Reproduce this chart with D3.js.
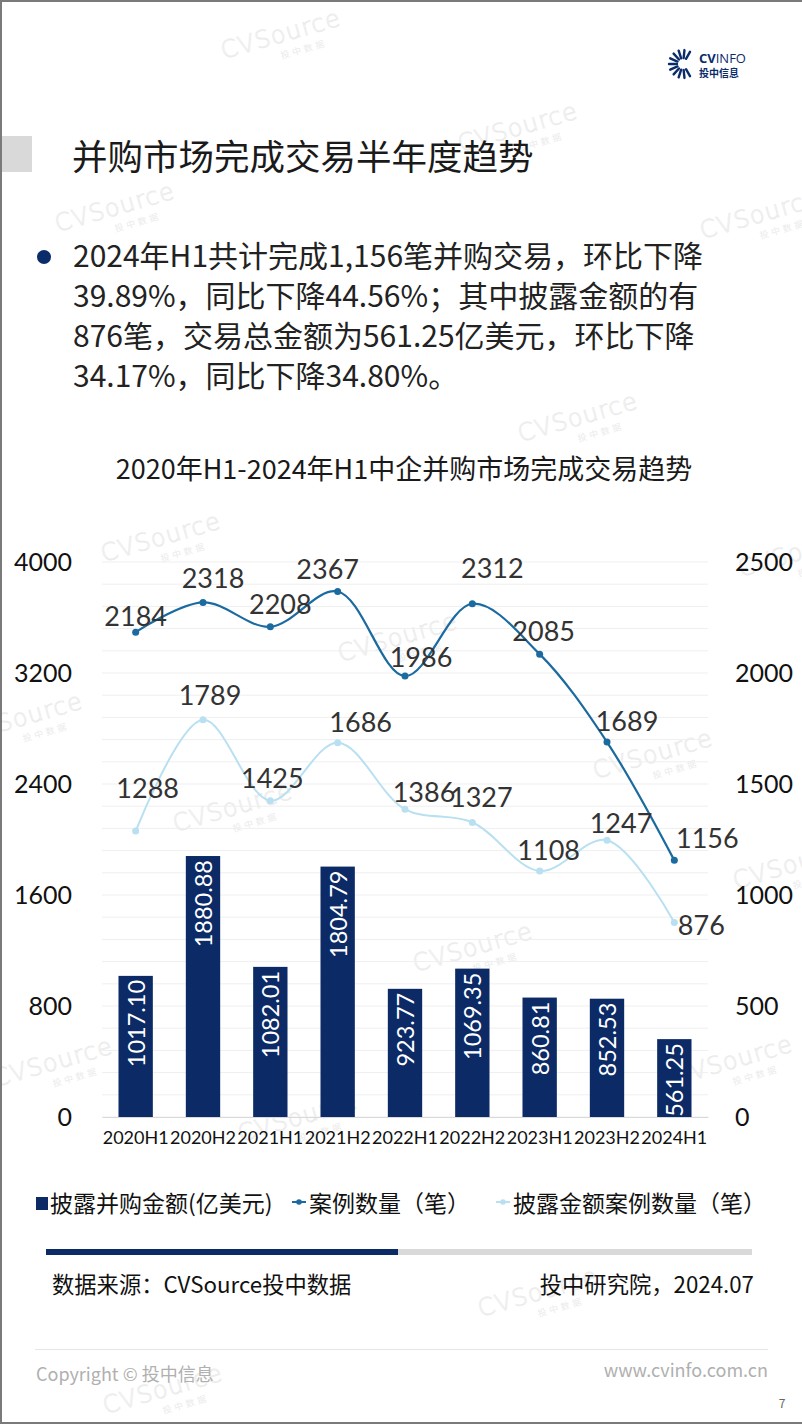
<!DOCTYPE html>
<html><head><meta charset="utf-8">
<script src="https://cdn.jsdelivr.net/npm/d3@7/dist/d3.min.js"></script>
<style>
html,body{margin:0;padding:0;background:#fff;}
svg{display:block;}
</style></head>
<body>
<script>
// ---------- data ----------
const categories = ["2020H1","2020H2","2021H1","2021H2","2022H1","2022H2","2023H1","2023H2","2024H1"];
const amounts = [1017.10,1880.88,1082.01,1804.79,923.77,1069.35,860.81,852.53,561.25];
const caseCounts = [2184,2318,2208,2367,1986,2312,2085,1689,1156];
const disclosedCounts = [1288,1789,1425,1686,1386,1327,1108,1247,876];
const leftTicks = [0,800,1600,2400,3200,4000];
const rightTicks = [0,500,1000,1500,2000,2500];
const seriesNames = ["披露并购金额(亿美元)","案例数量（笔）","披露金额案例数量（笔）"];
// label offsets (layout tweaks)
const caseLabelDx = [0,10,10,-10,16,20,4,20,33];
const caseLabelDy = [-16,-24,-23,-23,-19,-36,-23,-21,-22];
const discLabelDx = [12,7,2,23,19,9,9,14,27];
const discLabelDy = [-43,-25,-23,-21,-17,-25,-21,-17,2];

const W = 802, H = 1424;
const svg = d3.select("body").append("svg").attr("width", W).attr("height", H);
const CJK = "'Noto Sans CJK SC','Noto Sans',sans-serif";
const NUM = "Lato,'Open Sans',sans-serif";

svg.append("rect").attr("x",0).attr("y",0).attr("width",W).attr("height",H).attr("fill","#fff");

// ---------- watermarks ----------
const wm = [[283,42],[520,135],[117,215],[762,222],[580,425],[163,545],[400,645],[25,725],[235,815],[655,762],[475,955],[795,872],[55,1070],[735,1068],[300,1125],[540,1300],[165,1397],[800,560]];
const wmg = svg.append("g");
wm.forEach(([x,y])=>{
  const g = wmg.append("g").attr("transform",`translate(${x},${y}) rotate(-16)`);
  g.append("text").attr("text-anchor","middle").attr("font-family","'DejaVu Sans',sans-serif")
    .attr("font-size",24).attr("font-weight",200).attr("fill","none").attr("stroke","#ebebeb").attr("stroke-width",0.8)
    .attr("letter-spacing",1).text("CVSource");
  g.append("text").attr("x",18).attr("y",16).attr("text-anchor","middle").attr("font-family",CJK)
    .attr("font-size",9).attr("fill","#ebebeb").attr("letter-spacing",3).text("投中数据");
});

// ---------- header ----------
const logo = svg.append("g").attr("transform","translate(683,64)");
d3.range(11).forEach(i=>{
  const a = (60 + i*24) * Math.PI/180;
  logo.append("line").attr("x1",Math.cos(a)*6).attr("y1",-Math.sin(a)*6)
    .attr("x2",Math.cos(a)*14).attr("y2",-Math.sin(a)*14)
    .attr("stroke","#0b2c6b").attr("stroke-width",2.4).attr("stroke-linecap","round");
});
svg.append("text").attr("x",699).attr("y",63).attr("font-family","'Open Sans',sans-serif").attr("font-size",13)
  .attr("fill","#0b2c6b").html('<tspan font-weight="700">CV</tspan><tspan font-weight="400">INFO</tspan>');
svg.append("text").attr("x",699).attr("y",77).attr("font-family",CJK).attr("font-size",10).attr("font-weight",700)
  .attr("fill","#0b2c6b").text("投中信息");

svg.append("rect").attr("x",0).attr("y",136).attr("width",32).attr("height",36).attr("fill","#d9d9d9");
svg.append("text").attr("x",72).attr("y",170).attr("font-family",CJK).attr("font-size",35.5).attr("fill","#1a1a1a")
  .text("并购市场完成交易半年度趋势");

svg.append("circle").attr("cx",44).attr("cy",257).attr("r",7).attr("fill","#0b2c6b");
const bullet = ["2024年H1共计完成1,156笔并购交易，环比下降","39.89%，同比下降44.56%；其中披露金额的有","876笔，交易总金额为561.25亿美元，环比下降","34.17%，同比下降34.80%。"];
bullet.forEach((t,i)=>{
  svg.append("text").attr("x",73).attr("y",267+i*40).attr("font-family",CJK).attr("font-size",30)
    .attr("fill","#222").text(t);
});

svg.append("text").attr("x",404).attr("y",479).attr("text-anchor","middle").attr("font-family",CJK)
  .attr("font-size",27).attr("fill","#1a1a1a").text("2020年H1-2024年H1中企并购市场完成交易趋势");

// ---------- chart ----------
const x0 = 102, x1 = 708, yTop = 562, yBot = 1117;
const x = d3.scaleBand().domain(categories).range([x0,x1]).paddingInner(0.49).paddingOuter(0.245);
const yL = d3.scaleLinear().domain([0,4000]).range([yBot,yTop]);
const yR = d3.scaleLinear().domain([0,2500]).range([yBot,yTop]);
const cx = d => x(d) + x.bandwidth()/2;

svg.append("g").selectAll("line").data(d3.range(0,2501,100)).join("line")
  .attr("x1",x0).attr("x2",x1).attr("y1",d=>yR(d)).attr("y2",d=>yR(d))
  .attr("stroke","#efefef").attr("stroke-width",1);

const axL = svg.append("g").attr("transform",`translate(${x0},0)`)
  .call(d3.axisLeft(yL).tickValues(leftTicks).tickSize(0).tickPadding(30).tickFormat(d3.format("d")));
axL.select(".domain").remove();
axL.selectAll("text").attr("font-family",NUM).attr("font-size",25).attr("fill","#111");
const axR = svg.append("g").attr("transform",`translate(${x1},0)`)
  .call(d3.axisRight(yR).tickValues(rightTicks).tickSize(0).tickPadding(27).tickFormat(d3.format("d")));
axR.select(".domain").remove();
axR.selectAll("text").attr("font-family",NUM).attr("font-size",25).attr("fill","#111");
const axB = svg.append("g").attr("transform",`translate(0,${yBot})`)
  .call(d3.axisBottom(x).tickSize(0).tickPadding(14));
axB.select(".domain").attr("stroke","#d9d9d9");
axB.selectAll("text").attr("font-family",NUM).attr("font-size",18).attr("fill","#111");

// bars
svg.append("g").selectAll("rect").data(amounts).join("rect")
  .attr("x",(d,i)=>x(categories[i])).attr("width",x.bandwidth())
  .attr("y",d=>yL(d)).attr("height",d=>yBot-yL(d)).attr("fill","#0b2a66");
svg.append("g").selectAll("text").data(amounts).join("text")
  .attr("transform",(d,i)=>`translate(${cx(categories[i])+9},${yL(d)+4}) rotate(-90)`)
  .attr("text-anchor","end").attr("font-family",NUM).attr("font-size",23.5).attr("fill","#fff")
  .text(d=>d.toFixed(2));

// lines
const lineGen = yS => d3.line().x((d,i)=>cx(categories[i])).y(d=>yS(d)).curve(d3.curveCatmullRom.alpha(0.5));
const lightColor = "#b8e0f1", darkColor = "#1b6aa0";
svg.append("path").datum(disclosedCounts).attr("d",lineGen(yR)).attr("fill","none").attr("stroke",lightColor).attr("stroke-width",2);
svg.append("g").selectAll("circle").data(disclosedCounts).join("circle")
  .attr("cx",(d,i)=>cx(categories[i])).attr("cy",d=>yR(d)).attr("r",3.5).attr("fill",lightColor);
svg.append("path").datum(caseCounts).attr("d",lineGen(yR)).attr("fill","none").attr("stroke",darkColor).attr("stroke-width",2.2);
svg.append("g").selectAll("circle").data(caseCounts).join("circle")
  .attr("cx",(d,i)=>cx(categories[i])).attr("cy",d=>yR(d)).attr("r",3.5).attr("fill",darkColor);

svg.append("g").selectAll("text").data(caseCounts).join("text")
  .attr("x",(d,i)=>cx(categories[i])+caseLabelDx[i]).attr("y",(d,i)=>yR(d)+caseLabelDy[i]+10)
  .attr("text-anchor","middle").attr("font-family",NUM).attr("font-size",27).attr("fill","#333").text(d=>d);
svg.append("g").selectAll("text").data(disclosedCounts).join("text")
  .attr("x",(d,i)=>cx(categories[i])+discLabelDx[i]).attr("y",(d,i)=>yR(d)+discLabelDy[i]+10)
  .attr("text-anchor","middle").attr("font-family",NUM).attr("font-size",27).attr("fill","#333").text(d=>d);

// legend
const lg = svg.append("g");
const LF = 23;
lg.append("rect").attr("x",36).attr("y",1197).attr("width",12).attr("height",13).attr("fill","#0b2a66");
lg.append("text").attr("x",50).attr("y",1212).attr("font-family",CJK).attr("font-size",LF).attr("fill","#111").text(seriesNames[0]);
lg.append("line").attr("x1",292).attr("x2",306).attr("y1",1202).attr("y2",1202).attr("stroke",darkColor).attr("stroke-width",2);
lg.append("circle").attr("cx",299).attr("cy",1202).attr("r",2.8).attr("fill",darkColor);
lg.append("text").attr("x",309).attr("y",1212).attr("font-family",CJK).attr("font-size",LF).attr("fill","#111").text(seriesNames[1]);
lg.append("line").attr("x1",496).attr("x2",510).attr("y1",1202).attr("y2",1202).attr("stroke",lightColor).attr("stroke-width",2);
lg.append("circle").attr("cx",503).attr("cy",1202).attr("r",2.8).attr("fill",lightColor);
lg.append("text").attr("x",513).attr("y",1212).attr("font-family",CJK).attr("font-size",LF).attr("fill","#111").text(seriesNames[2]);

// ---------- footer ----------
svg.append("rect").attr("x",46).attr("y",1249).attr("width",352).attr("height",6).attr("fill","#0b2a66");
svg.append("rect").attr("x",398).attr("y",1249).attr("width",354).attr("height",6).attr("fill","#d9d9d9");
svg.append("text").attr("x",52).attr("y",1293).attr("font-family",CJK).attr("font-size",22.3).attr("fill","#111").text("数据来源：CVSource投中数据");
svg.append("text").attr("x",754).attr("y",1293).attr("text-anchor","end").attr("font-family",CJK).attr("font-size",22.3).attr("fill","#111").text("投中研究院，2024.07");
svg.append("line").attr("x1",35).attr("x2",768).attr("y1",1349.5).attr("y2",1349.5).attr("stroke","#e6e6e6");
svg.append("text").attr("x",36).attr("y",1381).attr("font-family",CJK).attr("font-size",18).attr("fill","#b0b0b0").text("Copyright © 投中信息");
svg.append("text").attr("x",768).attr("y",1377).attr("text-anchor","end").attr("font-family",CJK).attr("font-size",18).attr("fill","#b0b0b0").text("www.cvinfo.com.cn");
svg.append("text").attr("x",782).attr("y",1408).attr("text-anchor","middle").attr("font-family",CJK).attr("font-size",12).attr("fill","#666").text("7");

svg.append("path").attr("d",`M1,${H} V1 H${W}`).attr("fill","none").attr("stroke","#7a7a7a").attr("stroke-width",2);
svg.append("line").attr("x1",0).attr("x2",W).attr("y1",H-1).attr("y2",H-1).attr("stroke","#7a7a7a").attr("stroke-width",2);
</script>
</body></html>
